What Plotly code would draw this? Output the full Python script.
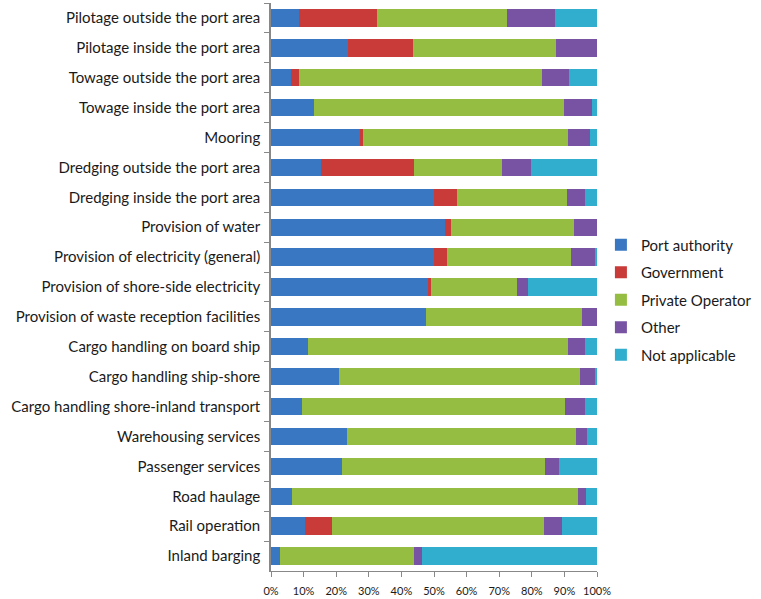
import plotly.graph_objects as go

# Services offered in port areas and who provides them (share of respondents, %)
services = [
    "Pilotage outside the port area",
    "Pilotage inside the port area",
    "Towage outside the port area",
    "Towage inside the port area",
    "Mooring",
    "Dredging outside the port area",
    "Dredging inside the port area",
    "Provision of water",
    "Provision of electricity (general)",
    "Provision of shore-side electricity",
    "Provision of waste reception facilities",
    "Cargo handling on board ship",
    "Cargo handling ship-shore",
    "Cargo handling shore-inland transport",
    "Warehousing services",
    "Passenger services",
    "Road haulage",
    "Rail operation",
    "Inland barging",
]

port_authority = [8.5, 23.5, 6.2, 13.1, 27.3, 15.3, 50.0, 53.3, 50.0, 48.4, 47.4, 11.2, 20.8, 9.4, 23.3, 21.8, 6.3, 10.5, 2.9]
government = [24.0, 20.2, 2.3, 0.0, 0.9, 28.7, 7.0, 1.9, 3.9, 0.6, 0.0, 0.0, 0.0, 0.0, 0.0, 0.0, 0.0, 8.2, 0.0]
private_operator = [40.0, 43.6, 74.5, 76.7, 62.8, 27.0, 33.7, 37.7, 38.1, 26.6, 48.0, 79.8, 73.9, 80.7, 70.2, 62.1, 87.8, 64.9, 41.1]
other = [14.5, 12.7, 8.3, 8.7, 6.8, 8.6, 5.6, 7.1, 7.4, 3.1, 4.6, 5.3, 4.7, 6.2, 3.4, 4.3, 2.5, 5.6, 2.2]
not_applicable = [13.0, 0.0, 8.7, 1.5, 2.2, 20.4, 3.7, 0.0, 0.6, 21.3, 0.0, 3.7, 0.6, 3.7, 3.1, 11.8, 3.4, 10.8, 53.8]

series = [
    ("Port authority", port_authority, "#3A77C2"),
    ("Government", government, "#C93B39"),
    ("Private Operator", private_operator, "#95BD42"),
    ("Other", other, "#7853A4"),
    ("Not applicable", not_applicable, "#31ADCD"),
]

FONT = "Lato"

fig = go.Figure()
for i, (name, values, color) in enumerate(series):
    fig.add_trace(go.Bar(
        name=name,
        y=services,
        x=values,
        orientation="h",
        marker=dict(color=color, line=dict(width=0)),
        legendgroup=f"g{i}",
    ))

fig.update_layout(
    width=761,
    height=599,
    barmode="stack",
    barnorm="percent",
    bargap=0.42,
    plot_bgcolor="white",
    paper_bgcolor="white",
    margin=dict(l=271, r=164, t=3, b=28),
    font=dict(family=FONT, size=14, color="#1a1a1a"),
    legend=dict(
        x=1.012, xanchor="left",
        y=0.477, yanchor="middle",
        font=dict(family=FONT, size=15, color="#1a1a1a"),
        tracegroupgap=5,
        itemwidth=30,
        bgcolor="rgba(0,0,0,0)",
    ),
    showlegend=True,
)

fig.update_xaxes(
    range=[0, 100],
    tickmode="array",
    tickvals=list(range(0, 101, 10)),
    ticktext=[f"{v}%" for v in range(0, 101, 10)],
    ticks="outside",
    ticklen=5,
    tickcolor="#888888",
    showline=True,
    linecolor="#888888",
    linewidth=1,
    showgrid=False,
    zeroline=False,
    ticklabelstandoff=5,
    tickfont=dict(family=FONT, size=11, color="#1a1a1a"),
)

fig.update_yaxes(
    autorange="reversed",
    tickson="boundaries",
    ticks="outside",
    ticklen=5,
    tickcolor="#888888",
    showline=True,
    linecolor="#888888",
    linewidth=1.5,
    showgrid=False,
    ticklabelstandoff=6,
    tickfont=dict(family=FONT, size=15, color="#1a1a1a"),
)

fig.write_html("out.html")
